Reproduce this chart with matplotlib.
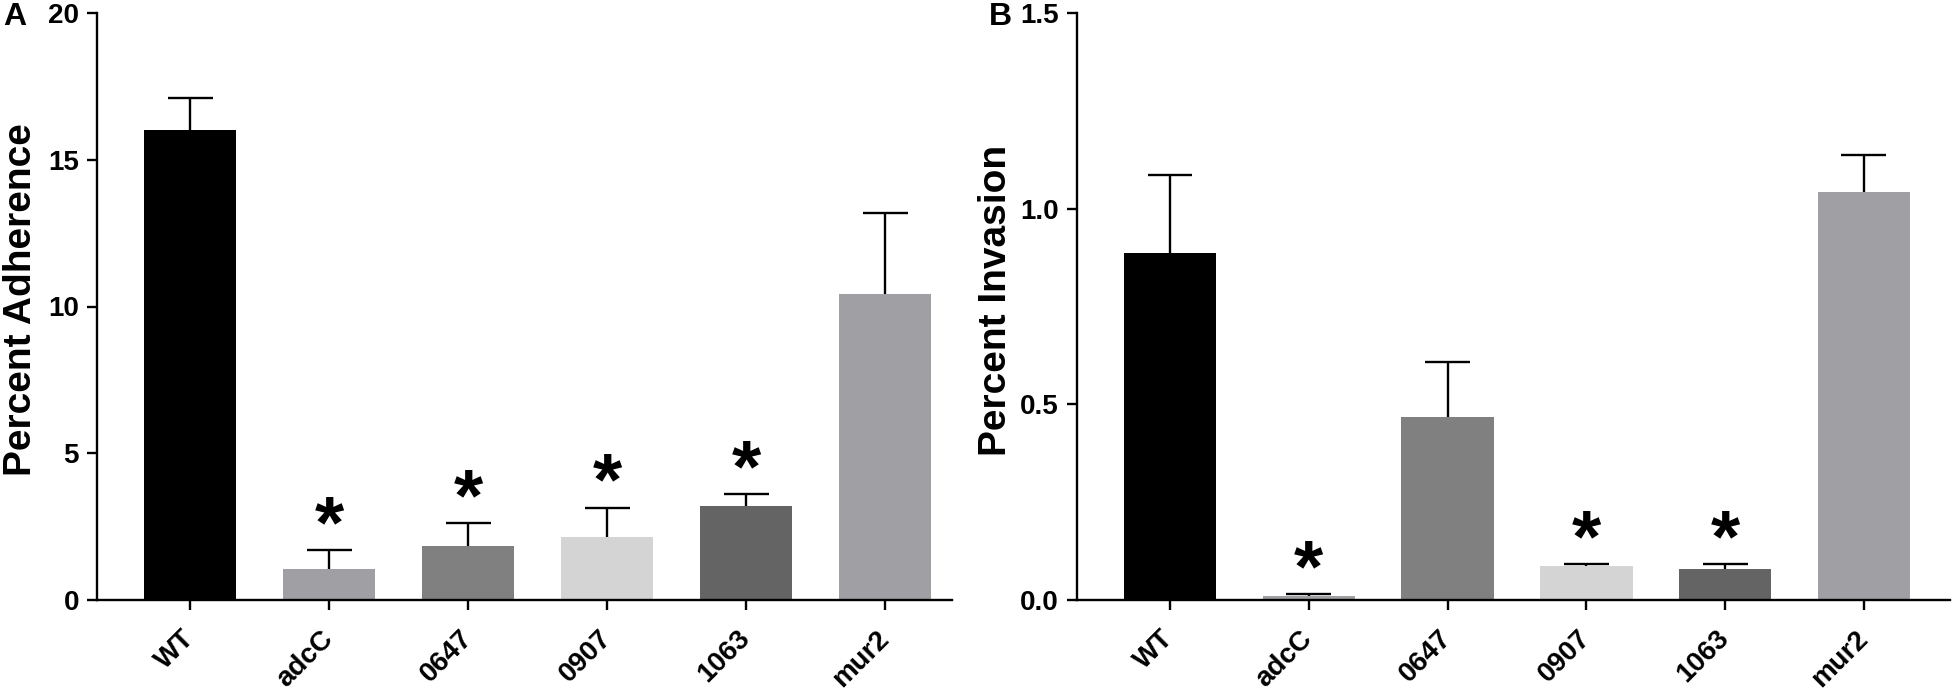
import matplotlib
matplotlib.use("Agg")
import matplotlib.pyplot as plt
import numpy as np

categories = ['WT', 'adcC', '0647', '0907', '1063', 'mur2']
bar_colors = ['#000000', '#a0a0a4', '#808080', '#d4d4d4', '#646464', '#a0a0a4']

adherence = [16.0, 1.07, 1.83, 2.16, 3.21, 10.43]
adherence_err = [1.1, 0.63, 0.80, 0.99, 0.39, 2.76]
adherence_sig = [False, True, True, True, True, False]

invasion = [0.887, 0.010, 0.467, 0.087, 0.079, 1.043]
invasion_err = [0.200, 0.005, 0.141, 0.005, 0.013, 0.095]
invasion_sig = [False, True, False, True, True, False]

plt.rcParams['font.family'] = ['Liberation Sans', 'DejaVu Sans']
plt.rcParams['font.weight'] = 'bold'

W, H = 1955, 692
fig = plt.figure(figsize=(W / 100, H / 100), dpi=100)

def px_axes(x0, x1, y_top, y_bot):
    return fig.add_axes([x0 / W, 1 - y_bot / H, (x1 - x0) / W, (y_bot - y_top) / H])

axA = px_axes(97, 952, 13, 600)
axB = px_axes(1077, 1950, 13, 600)

def draw(ax, vals, errs, sig, ylim, yticks, yticklabels, xlim):
    x = np.arange(len(categories))
    vals = np.asarray(vals)
    errs = np.asarray(errs)
    ax.bar(x, vals, width=0.665, color=bar_colors, linewidth=0, zorder=2)
    tops = vals + errs
    ax.vlines(x, vals, tops, colors='black', linewidth=1.7, zorder=3)
    ax.hlines(tops, x - 0.162, x + 0.162, colors='black', linewidth=1.7, zorder=3)
    for xi, t, s in zip(x, tops, sig):
        if s:
            ax.annotate('*', xy=(xi, t), xytext=(0, 2), textcoords='offset points',
                        ha='center', va='baseline', fontsize=54, fontweight='bold')
    ax.set_xlim(*xlim)
    ax.set_ylim(*ylim)
    ax.set_yticks(yticks)
    ax.set_yticklabels(yticklabels, fontsize=20, fontweight='bold')
    ax.set_xticks(x)
    ax.set_xticklabels(categories, fontsize=20, fontweight='bold', rotation=45,
                       ha='right', va='center', rotation_mode='anchor')
    ax.tick_params(axis='x', length=7, width=1.7, pad=18)
    ax.tick_params(axis='y', length=7, width=1.7, pad=6)
    for sp in ['top', 'right']:
        ax.spines[sp].set_visible(False)
    for sp in ['left', 'bottom']:
        ax.spines[sp].set_linewidth(1.7)

draw(axA, adherence, adherence_err, adherence_sig, (0, 20), [0, 5, 10, 15, 20],
     ['0', '5', '10', '15', '20'], (-0.67, 5.48))
draw(axB, invasion, invasion_err, invasion_sig, (0, 1.5), [0, 0.5, 1.0, 1.5],
     ['0.0', '0.5', '1.0', '1.5'], (-0.67, 5.62))

fig.text(21 / W, 1 - 300 / H, 'Percent Adherence', fontsize=28, fontweight='bold',
         rotation=90, ha='center', va='center')
fig.text(996 / W, 1 - 300 / H, 'Percent Invasion', fontsize=28, fontweight='bold',
         rotation=90, ha='center', va='center')

fig.text(3 / W, 1 - 17 / H, 'A', fontsize=23, fontweight='bold', ha='left', va='center')
fig.text(989 / W, 1 - 17 / H, 'B', fontsize=23, fontweight='bold', ha='left', va='center')

fig.savefig('out.png', dpi=100)
